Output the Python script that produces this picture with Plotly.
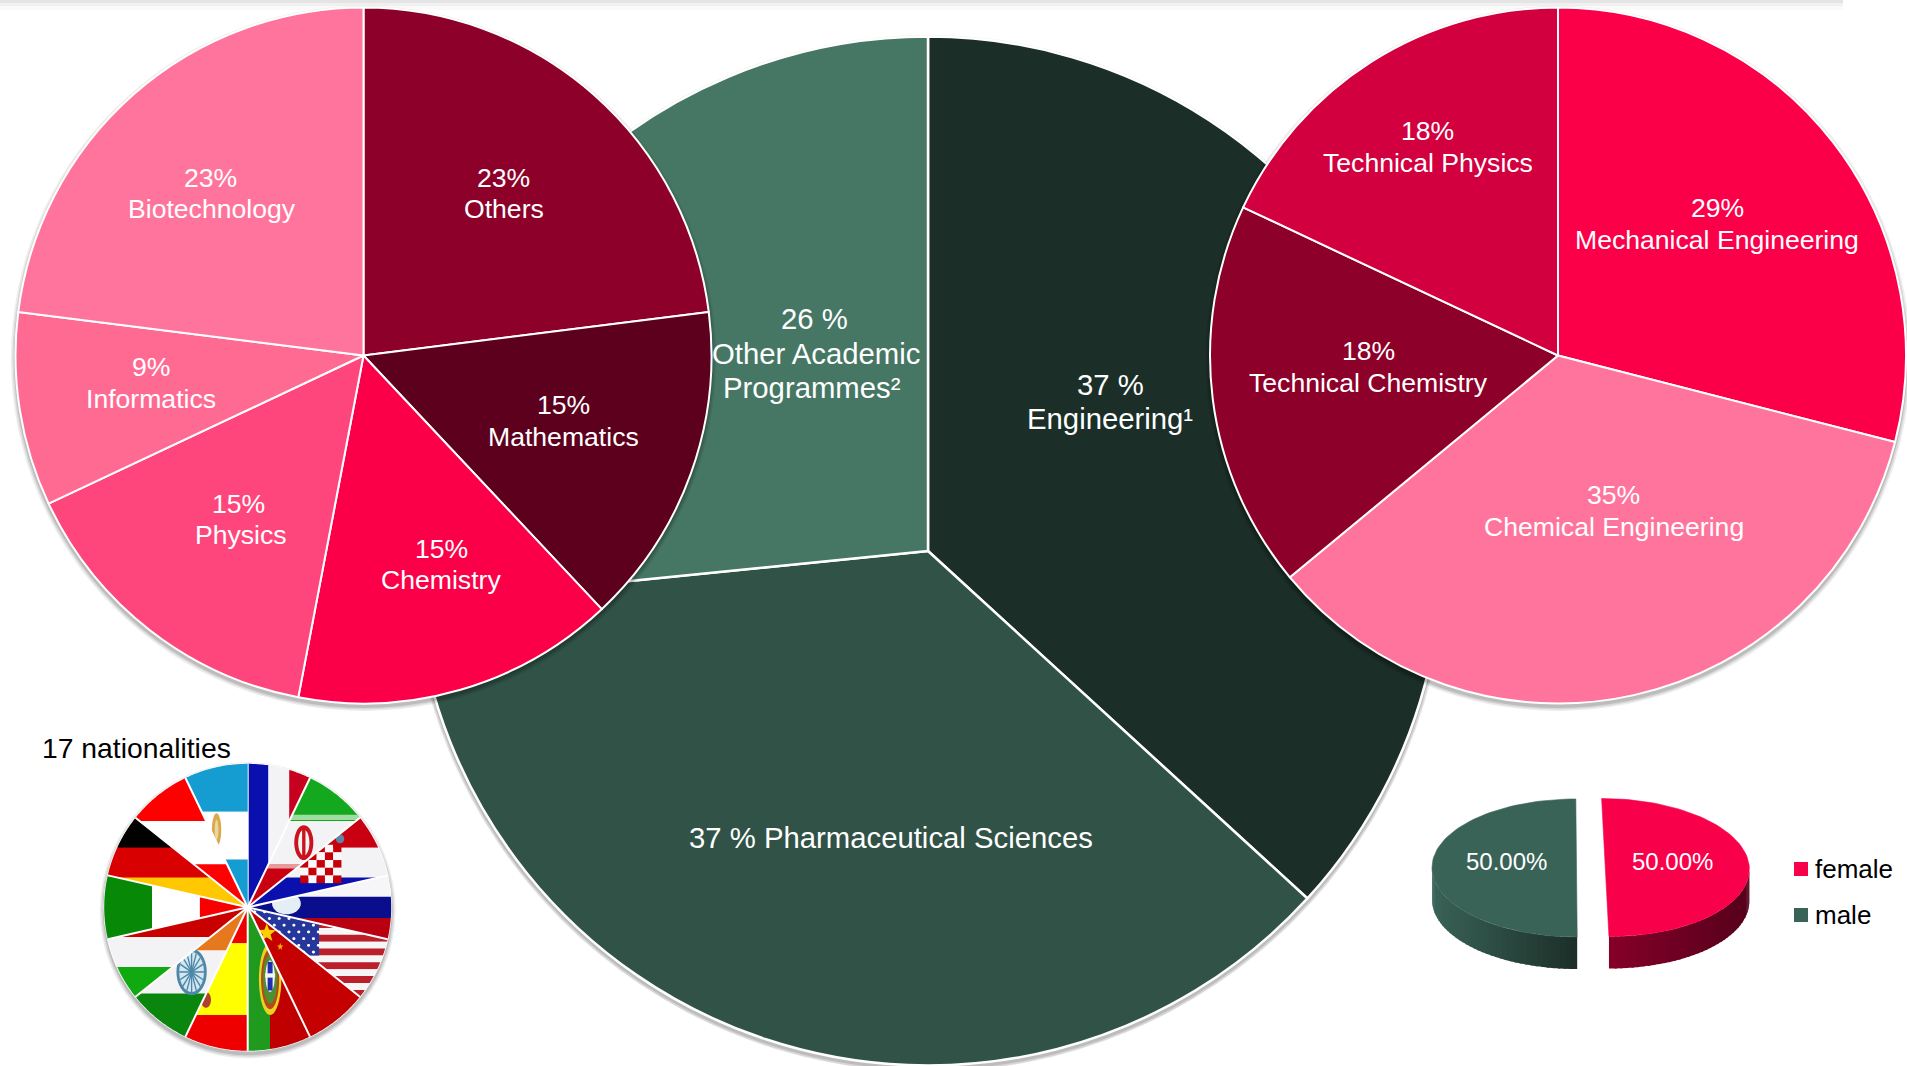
import math
import plotly.graph_objects as go

W, H = 1907, 1066
PAD = 6            # the main and right pies (with shadows) run a few pixels past the window edge
FW, FH = W + PAD, H + PAD
S = W / 1568

# ---------- data ----------
main_labels = ["Engineering", "Pharmaceutical Sciences", "Other Academic Programmes"]
main_values = [36.8, 36.6, 26.6]
main_colors = ["#1b2e28", "#315246", "#467765"]

left_labels = ["Others", "Mathematics", "Chemistry", "Physics", "Informatics", "Biotechnology"]
left_values = [23, 15, 15, 15, 9, 23]
left_colors = ["#8c0029", "#5c001d", "#fb0049", "#ff467c", "#ff6a93", "#ff749c"]

right_labels = ["Mechanical Engineering", "Chemical Engineering", "Technical Chemistry", "Technical Physics"]
right_values = [29, 35, 18, 18]
right_colors = ["#fb0049", "#ff749c", "#8c0029", "#d2003f"]

gender_labels = ["female", "male"]
gender_values = [50, 50]
gender_colors = ["#f8004a", "#3a6358"]

flag_labels = ["France", "Iran", "Croatia", "Russia", "USA", "China", "Portugal", "Spain",
               "India", "Hungary", "Italy", "Germany", "Austria", "Argentina"]
flag_values = [1] * 14
flag_colors = ["#f2f2f6", "#f2f2f2", "#f2f2f2", "#f4f4f8", "#f2f2f2", "#c80000", "#c00000",
               "#ffff00", "#f2f2f2", "#f2f2f2", "#f8f8f8", "#d80000", "#f8f8f8", "#f8f8f8"]

# ---------- geometry ----------
def dom(cx, cy, r):
    return dict(x=[max(0, (cx - r) / FW), min(1, (cx + r) / FW)],
                y=[max(0, 1 - (cy + r) / FH), min(1, 1 - (cy - r) / FH)])

MAIN = (928, 551, 514.5)
LEFT = (363.5, 355.5, 348)
RIGHT = (1558, 355.5, 348)
FLAG = (247.7, 907.3, 143.5)

fig = go.Figure()

def pie(labels, values, colors, geo, lw=2):
    fig.add_trace(go.Pie(labels=labels, values=values, sort=False, direction="clockwise", rotation=0,
                         marker=dict(colors=colors, line=dict(color="white", width=lw)),
                         textinfo="none", domain=dom(*geo), showlegend=False, hoverinfo="label+percent"))

def shadow(geo, dy=3):
    cx, cy, r = geo
    for grow, op in ((4.5, 0.07), (3, 0.09), (1.5, 0.12)):
        r2 = r + grow
        fig.add_trace(go.Pie(values=[1], labels=["shadow"], marker=dict(colors=["#000000"], line=dict(width=0)),
                             opacity=op, textinfo="none", domain=dom(cx, cy + dy, r2),
                             showlegend=False, hoverinfo="skip", sort=False))

# ---------- small 3D gender pie, drawn on hidden pixel axes ----------
def mix(c1, c2, t):
    a = [int(c1[i:i + 2], 16) for i in (1, 3, 5)]
    b = [int(c2[i:i + 2], 16) for i in (1, 3, 5)]
    return "#%02x%02x%02x" % tuple(round(a[i] + (b[i] - a[i]) * t) for i in range(3))

def ell(c, th):
    cx, cy, a, b, k = c
    y = cy - b * math.cos(th)
    return cx + a * math.sin(th) + k * (y - cy), y

def poly_trace(xs, ys, color, lw=0.6):
    fig.add_trace(go.Scatter(x=xs, y=ys, mode="lines", fill="toself", fillcolor=color,
                             line=dict(color=color, width=lw), showlegend=False, hoverinfo="skip"))

FEM = (1605.3, 867.5, 144, 69, 0.053)
MAL = (1576.5, 868, 144.5, 69, 0.01)
DEPTH = 32
wall_colors = {"female": ("#840029", "#55001b"), "male": ("#1c3029", "#3a6358")}
total = sum(gender_values)
t_mid = 2 * math.pi * gender_values[0] / total
N = 40
for name, c, t0, t1 in (("female", FEM, t_mid, math.pi / 2), ("male", MAL, t_mid, 1.5 * math.pi)):
    c0, c1 = wall_colors[name]
    for i in range(N):
        a0 = t0 + (t1 - t0) * i / N
        a1 = t0 + (t1 - t0) * (i + 1.4) / N
        if i == N - 1:
            a1 = t1
        # colour follows horizontal position along the wall
        t = abs(math.sin(a0))
        p0, p1 = ell(c, a0), ell(c, a1)
        xs = [p0[0], p1[0], p1[0], p0[0], p0[0]]
        ys = [p0[1], p1[1], p1[1] + DEPTH, p0[1] + DEPTH, p0[1]]
        poly_trace(xs, ys, mix(c0, c1, t), 0)
for name, c, t0, t1, col in (("female", FEM, 0, t_mid, gender_colors[0]),
                             ("male", MAL, t_mid, 2 * math.pi, gender_colors[1])):
    pts = [ell(c, t0 + (t1 - t0) * j / 80) for j in range(81)]
    poly_trace([p[0] for p in pts] + [pts[0][0]], [p[1] for p in pts] + [pts[0][1]], col)

# ---------- pies ----------
shadow(MAIN)
pie(main_labels, main_values, main_colors, MAIN, 2.5)
shadow(LEFT)
pie(left_labels, left_values, left_colors, LEFT)
shadow(RIGHT)
pie(right_labels, right_values, right_colors, RIGHT)
shadow(FLAG)
pie(flag_labels, flag_values, flag_colors, FLAG, 1.5)

# ---------- flag artwork, each flag stretched over its wedge's bounding box ----------
def wedge(a0, a1, geo):
    cx, cy, r = geo
    pts = [(cx, cy)]
    for j in range(41):
        a = a0 + (a1 - a0) * j / 40
        pts.append((cx + r * math.sin(a), cy - r * math.cos(a)))
    return pts

def clip(poly, clipper):
    out = poly
    n = len(clipper)
    area = sum(clipper[i][0] * clipper[(i + 1) % n][1] - clipper[(i + 1) % n][0] * clipper[i][1] for i in range(n))
    sgn = 1 if area > 0 else -1
    for i in range(n):
        A, B = clipper[i], clipper[(i + 1) % n]
        if abs(A[0] - B[0]) < 1e-9 and abs(A[1] - B[1]) < 1e-9:
            continue
        side = lambda P: sgn * ((B[0] - A[0]) * (P[1] - A[1]) - (B[1] - A[1]) * (P[0] - A[0]))
        res = []
        for j in range(len(out)):
            P, Q = out[j], out[(j + 1) % len(out)]
            sp, sq = side(P), side(Q)
            if sp >= 0:
                res.append(P)
            if sp * sq < 0:
                t = sp / (sp - sq)
                res.append((P[0] + (Q[0] - P[0]) * t, P[1] + (Q[1] - P[1]) * t))
        out = res
        if not out:
            return []
    return out

def rect(c, u0, v0, u1, v1):
    return (c, [(u0, v0), (u1, v0), (u1, v1), (u0, v1)])

def oval(c, u, v, ru, rv):
    return (c, [(u + ru * math.cos(2 * math.pi * i / 40), v + rv * math.sin(2 * math.pi * i / 40)) for i in range(40)])

def star(c, u, v, ru, rv):
    p = []
    for i in range(10):
        rr = 1 if i % 2 == 0 else 0.42
        a = -math.pi / 2 + i * math.pi / 5
        p.append((u + ru * rr * math.cos(a), v + rv * rr * math.sin(a)))
    return (c, p)

def spoke(c, u, v, ru, rv, a):
    ca, sa = math.cos(a), math.sin(a)
    nx, ny = -sa * .006, ca * .006
    return (c, [(u + nx, v + ny), (u + ru * ca + nx, v + rv * sa + ny),
                (u + ru * ca - nx, v + rv * sa - ny), (u - nx, v - ny)])

def hbands(*cols):
    n = len(cols)
    return [rect(c, 0, i / n, 1, (i + 1) / n) for i, c in enumerate(cols)]

def vbands(*cols):
    n = len(cols)
    return [rect(c, i / n, 0, (i + 1) / n, 1) for i, c in enumerate(cols)]

WHT = "#f3f3f5"
RED = "#c60008"
checks = []
for i in range(5):
    for j in range(5):
        checks.append(rect(RED if (i + j) % 2 == 0 else "#f8f8f8",
                           .375 + i * .059, .30 + j * .086, .375 + (i + 1) * .059, .30 + (j + 1) * .086))
us = [rect("#bb1f2c" if i % 2 == 0 else "#f6f6f6", 0, i / 13, 1, (i + 1) / 13) for i in range(13)]
us.append(rect("#26379c", 0, 0, .51, 7 / 13))
for i in range(7):
    for j in range(7):
        us.append(oval("#ffffff", .05 + i * .07 + (.035 if j % 2 else 0), .05 + j * .075, .011, .016))

flags = {
    "France": vbands("#0a10ae", WHT, "#c80020"),
    "Iran": hbands("#14a81e", WHT, "#c80012") + [
        rect("#9fdca0", 0, .285, 1, .325), rect("#e79a9a", 0, .665, 1, .70),
        oval("#c9141e", .5, .5, .085, .135), oval(WHT, .5, .5, .05, .10), rect("#c9141e", .485, .39, .515, .61)],
    "Croatia": hbands("#c80012", WHT, "#0a10ae") + checks + [oval("#5e86a4", .66, .235, .03, .05)],
    "Russia": hbands("#f6f6f8", "#0a0e8c", "#b80010") + [oval("#e4eef4", .27, .44, .1, .17)],
    "USA": us,
    "China": [rect("#c40000", 0, 0, 1, 1), star("#f8d000", .17, .2, .085, .075),
              star("#f8b000", .29, .305, .03, .03)],
    "Portugal": [rect("#1f9a1f", 0, 0, .36, 1), rect("#c00000", .36, 0, 1, 1),
                 oval("#e8d420", .36, .5, .18, .25), oval("#b84818", .36, .5, .145, .21),
                 oval("#4f8f30", .36, .5, .115, .17), oval("#f4f4f4", .36, .48, .075, .11),
                 rect("#1f2fb0", .32, .38, .40, .58), rect("#f4f4f4", .28, .46, .44, .49)],
    "Spain": [rect("#ee0000", 0, 0, 1, .25), rect("#ffff00", 0, .25, 1, .75), rect("#ee0000", 0, .75, 1, 1),
              oval("#b04030", .33, .645, .08, .055)],
    "India": hbands("#e6781e", WHT, "#0a860e") + [
        oval("#4d87a8", .5, .5, .135, .18), oval("#d4e6f0", .5, .5, .11, .155)] +
        [spoke("#4d87a8", .5, .5, .11, .155, i * math.pi / 8) for i in range(16)],
    "Hungary": hbands("#c80000", WHT, "#10aa10"),
    "Italy": vbands("#078807", "#ffffff", "#f80000"),
    "Germany": hbands("#000000", "#d80000", "#ffc800"),
    "Austria": hbands("#ff0000", "#ffffff", "#ff0000"),
    "Argentina": hbands("#159dd2", "#ffffff", "#159dd2") + [oval("#d9a94c", .5, .46, .075, .115),
                                                              oval("#e8d8a0", .5, .46, .03, .07)],
}

shapes = []
def path(pts):
    return "M" + "L".join("%.2f,%.2f" % p for p in pts) + "Z"

n_f = sum(flag_values)
cum = 0
for name, v in zip(flag_labels, flag_values):
    a0 = 2 * math.pi * cum / n_f
    cum += v
    a1 = 2 * math.pi * cum / n_f
    wg = wedge(a0, a1, FLAG)
    x0 = min(p[0] for p in wg); x1 = max(p[0] for p in wg)
    y0 = min(p[1] for p in wg); y1 = max(p[1] for p in wg)
    for col, uv in flags[name]:
        poly = [(x0 + (x1 - x0) * u, y0 + (y1 - y0) * v_) for u, v_ in uv]
        c = clip(poly, wg)
        if len(c) > 2:
            shapes.append(dict(type="path", path=path(c), xref="x", yref="y", fillcolor=col,
                               line=dict(width=0), layer="above"))
    shapes.append(dict(type="line", xref="x", yref="y", x0=FLAG[0], y0=FLAG[1],
                       x1=FLAG[0] + FLAG[2] * math.sin(a0), y1=FLAG[1] - FLAG[2] * math.cos(a0),
                       line=dict(color="#ffffff", width=2), layer="above"))

# faint band along the top edge of the slide
for y0, y1, col in ((0, 3, "#e4e4e4"), (3, 6, "#f0f0f0"), (6, 10, "#fafafa")):
    shapes.append(dict(type="rect", xref="x", yref="y", x0=0, x1=1843, y0=y0, y1=y1,
                       fillcolor=col, line=dict(width=0), layer="below"))

# gender legend swatches
for yc, col in ((869, gender_colors[0]), (915, gender_colors[1])):
    shapes.append(dict(type="rect", xref="x", yref="y", x0=1794, x1=1808, y0=yc - 7, y1=yc + 7,
                       fillcolor=col, line=dict(width=0), layer="above"))

# ---------- text ----------
FONT = "Liberation Sans, Arial, sans-serif"
W_ = "#ffffff"
BIG = 29.3
MID = 26.6
texts = [
    ("23%", 414, 146, MID), ("Others", 414, 172, MID),
    ("15%", 463, 333, MID), ("Mathematics", 463, 359, MID),
    ("15%", 363, 451, MID), ("Chemistry", 363, 477, MID),
    ("15%", 196, 414, MID), ("Physics", 198, 440, MID),
    ("9%", 124, 302, MID), ("Informatics", 124, 328, MID),
    ("23%", 173, 146, MID), ("Biotechnology", 174, 172, MID),
    ("29%", 1412, 171, MID), ("Mechanical Engineering", 1412, 197, MID),
    ("35%", 1327, 407, MID), ("Chemical Engineering", 1327, 433, MID),
    ("18%", 1125, 289, MID), ("Technical Chemistry", 1125, 315, MID),
    ("18%", 1174, 108, MID), ("Technical Physics", 1174, 134, MID),
    ("37 %", 913, 316, BIG), ("Engineering¹", 913, 344, BIG),
    ("26 %", 670, 262, BIG), ("Other Academic", 671, 290.5, BIG), ("Programmes²", 668, 319, BIG),
    ("37 % Pharmaceutical Sciences", 733, 689, BIG),
    ("50.00%", 1238.5, 708, 24), ("50.00%", 1375, 708, 24),
]
ann = [dict(text=t, x=x * S, y=y * S, xref="x", yref="y", showarrow=False, xanchor="center", yanchor="middle",
            font=dict(family=FONT, size=s, color=W_)) for t, x, y, s in texts]
ann.append(dict(text="17 nationalities", x=112 * S, y=615 * S, xref="x", yref="y", showarrow=False,
                xanchor="center", yanchor="middle", font=dict(family=FONT, size=28.3, color="#000000")))
for lab, yc in zip(gender_labels, (869, 915)):
    ann.append(dict(text=lab, x=1812.5, y=yc, xref="x", yref="y", showarrow=False, xanchor="left", yanchor="middle",
                    font=dict(family=FONT, size=26, color="#000000")))

fig.update_layout(
    width=FW, height=FH, margin=dict(l=0, r=0, t=0, b=0, pad=0, autoexpand=False),
    paper_bgcolor="white", plot_bgcolor="white", showlegend=False,
    xaxis=dict(visible=False, range=[0, FW], domain=[0, 1], fixedrange=True),
    yaxis=dict(visible=False, range=[FH, 0], domain=[0, 1], fixedrange=True),
    shapes=shapes, annotations=ann,
)

fig.write_html("out.html", config=dict(displayModeBar=False),
               post_script="document.documentElement.style.overflow='hidden';"
                           "document.body.style.margin='0';document.body.style.overflow='hidden';"
                           "document.body.style.height='1066px';")
